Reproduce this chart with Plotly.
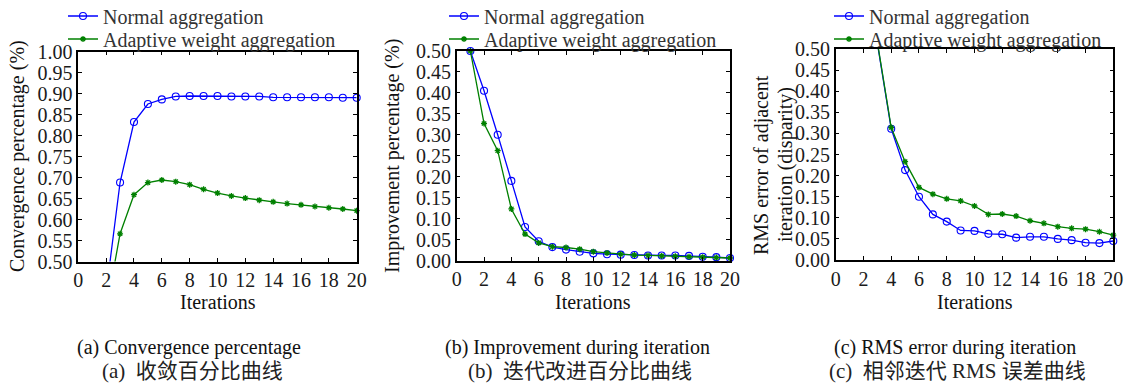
import plotly.graph_objects as go

# ---------------- data ----------------
iter_a = list(range(2, 21))
conv_normal = [0.427, 0.688, 0.832, 0.875, 0.886, 0.893, 0.894, 0.894, 0.894, 0.893,
               0.893, 0.893, 0.891, 0.891, 0.891, 0.891, 0.891, 0.890, 0.890]
conv_adaptive = [0.383, 0.566, 0.659, 0.688, 0.694, 0.690, 0.683, 0.672, 0.663, 0.656,
                 0.651, 0.646, 0.642, 0.638, 0.635, 0.631, 0.628, 0.625, 0.621]

iter_b = list(range(1, 21))
impr_normal = [0.500, 0.405, 0.300, 0.190, 0.080, 0.046, 0.032, 0.026, 0.021, 0.017,
               0.015, 0.014, 0.013, 0.012, 0.012, 0.012, 0.011, 0.009, 0.008, 0.006]
impr_adaptive = [0.500, 0.327, 0.262, 0.123, 0.063, 0.042, 0.033, 0.031, 0.027, 0.021,
                 0.018, 0.015, 0.013, 0.012, 0.011, 0.010, 0.009, 0.008, 0.007, 0.006]

iter_c = list(range(3, 21))
rms_normal = [0.514, 0.311, 0.213, 0.150, 0.108, 0.091, 0.070, 0.069, 0.062, 0.061,
              0.053, 0.055, 0.055, 0.050, 0.047, 0.041, 0.040, 0.045]
rms_adaptive = [0.517, 0.314, 0.233, 0.172, 0.156, 0.145, 0.140, 0.128, 0.108, 0.109,
                0.104, 0.093, 0.087, 0.079, 0.075, 0.073, 0.067, 0.059]

series_names = ["Normal aggregation", "Adaptive weight aggregation"]
x_ticks = list(range(0, 21, 2))
y_ticks_a = [0.50, 0.55, 0.60, 0.65, 0.70, 0.75, 0.80, 0.85, 0.90, 0.95, 1.00]
y_ticks_bc = [0.00, 0.05, 0.10, 0.15, 0.20, 0.25, 0.30, 0.35, 0.40, 0.45, 0.50]
y_titles = ["Convergence percentage (%)", "Improvement percentage (%)"]
y_title_c = ["RMS error of adjacent", "iteration (disparity)"]
x_title = "Iterations"
captions_en = ["(a) Convergence percentage", "(b) Improvement during iteration",
               "(c) RMS error during iteration"]
captions_zh = ["(a)  收敛百分比曲线", "(b)  迭代改进百分比曲线", "(c)  相邻迭代 RMS 误差曲线"]

# ---------------- layout helpers ----------------
W, H = 1133, 384
SERIF = "Times New Roman"
F_ZH = "Times New Roman, Noto Sans CJK SC"
BLUE = "#0000ff"
GREEN = "#008000"


def px_x(p):
    return p / W


def px_y(p):
    return 1 - p / H


# plot areas in pixels: (left, right, top, bottom)
areas = [(78.3, 356.7, 51.5, 261.5), (456.7, 730.0, 51.0, 260.5), (835.7, 1113.3, 49.0, 260.0)]
legend_left = [63, 444, 829]
ytitle_x = [17, 392]
caption_en_x = [188.5, 577.5, 955]
caption_zh_x = [192.5, 580, 957]
legend_rows = [16, 39]

fig = go.Figure()

panels = [
    (iter_a, conv_normal, conv_adaptive, [0.5, 1.0], y_ticks_a),
    (iter_b, impr_normal, impr_adaptive, [0.0, 0.5], y_ticks_bc),
    (iter_c, rms_normal, rms_adaptive, [0.0, 0.5], y_ticks_bc),
]

leg_idx = 0
for i, (xs, yn, ya, yr, yt) in enumerate(panels):
    n = i + 1
    xa = "x" if n == 1 else f"x{n}"
    ya_ = "y" if n == 1 else f"y{n}"
    styles = [
        (yn, BLUE, dict(symbol="circle-open", size=7, color=BLUE, line=dict(width=1.1, color=BLUE))),
        (ya, GREEN, dict(symbol="asterisk-open", size=5, color=GREEN, line=dict(width=1.3, color=GREEN))),
    ]
    for k, (yv, col, mk) in enumerate(styles):
        leg_idx += 1
        lg = "legend" if leg_idx == 1 else f"legend{leg_idx}"
        fig.add_trace(go.Scatter(
            x=xs, y=yv, name=series_names[k], mode="lines+markers",
            line=dict(color=col, width=1.3), marker=mk,
            xaxis=xa, yaxis=ya_, legend=lg, cliponaxis=False))
        fig.layout[lg] = dict(
            x=px_x(legend_left[i]), y=px_y(legend_rows[k]), xanchor="left", yanchor="middle",
            bgcolor="rgba(0,0,0,0)", borderwidth=0, itemwidth=30,
            font=dict(family=SERIF, size=20, color="#333333"))

    l, r, t, b = areas[i]
    axis_common = dict(showline=True, linecolor="black", linewidth=1.5, mirror="ticks",
                       ticks="inside", ticklen=4, tickwidth=1, tickcolor="black",
                       showgrid=False, zeroline=False,
                       tickfont=dict(family=SERIF, size=20, color="#1a1a1a"))
    fig.layout[f"xaxis{'' if n == 1 else n}"] = dict(
        domain=[px_x(l), px_x(r)], range=[0, 20], tickvals=x_ticks,
        anchor=ya_, **axis_common)
    fig.layout[f"yaxis{'' if n == 1 else n}"] = dict(
        domain=[px_y(b), px_y(t)], range=yr, tickvals=yt, tickformat=".2f",
        anchor=xa, **axis_common)

    # x-axis title
    fig.add_annotation(x=px_x((l + r) / 2), y=px_y(302), xref="paper", yref="paper",
                       text=x_title, showarrow=False, xanchor="center", yanchor="middle",
                       font=dict(family=SERIF, size=20, color="#111111"))
    # captions
    fig.add_annotation(x=px_x(caption_en_x[i]), y=px_y(347), xref="paper", yref="paper",
                       text=captions_en[i], showarrow=False, xanchor="center", yanchor="middle",
                       font=dict(family=SERIF, size=20, color="#111111"))
    fig.add_annotation(x=px_x(caption_zh_x[i]), y=px_y(371), xref="paper", yref="paper",
                       text=captions_zh[i], showarrow=False, xanchor="center", yanchor="middle",
                       font=dict(family=F_ZH, size=21, color="#222222"))

# y-axis titles
for j in range(2):
    fig.add_annotation(x=px_x(ytitle_x[j]), y=px_y(156), xref="paper", yref="paper",
                       text=y_titles[j], showarrow=False, textangle=-90,
                       xanchor="center", yanchor="middle",
                       font=dict(family=SERIF, size=20, color="#111111"))
for j, cx in enumerate([761, 785]):
    fig.add_annotation(x=px_x(cx), y=px_y(165), xref="paper", yref="paper",
                       text=y_title_c[j], showarrow=False, textangle=-90,
                       xanchor="center", yanchor="middle",
                       font=dict(family=SERIF, size=20, color="#111111"))

fig.update_layout(width=W, height=H,
                  font=dict(family=SERIF, size=20, color="#1a1a1a"),
                  margin=dict(l=0, r=0, t=0, b=0, autoexpand=False),
                  paper_bgcolor="white", plot_bgcolor="white", showlegend=True)

fig.write_html("out.html", config={"displayModeBar": False},
               post_script="document.body.style.margin='0px';")
